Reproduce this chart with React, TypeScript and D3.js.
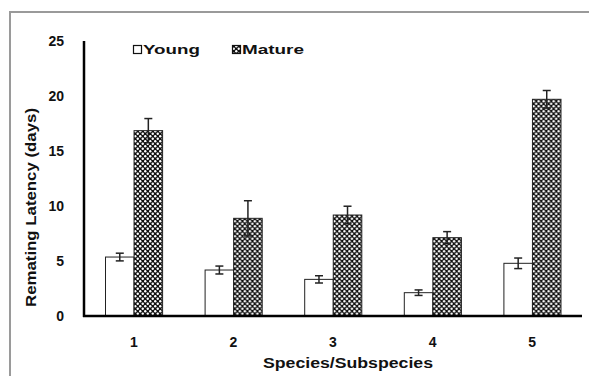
import React, { useEffect, useRef } from "react";
import * as d3 from "d3";

const categories = ["1", "2", "3", "4", "5"];
const seriesNames = ["Young", "Mature"];
const youngMeans = [5.36, 4.18, 3.33, 2.12, 4.79];
const youngErrors = [0.35, 0.36, 0.33, 0.25, 0.48];
const matureMeans = [16.85, 8.88, 9.18, 7.12, 19.7];
const matureErrors = [1.1, 1.6, 0.8, 0.55, 0.8];
const yTicks = [0, 5, 10, 15, 20, 25];

const width = 589;
const height = 376;

const App = () => {
  const svgRef = useRef<SVGSVGElement>(null);

  useEffect(() => {
    const svg = d3.select(svgRef.current);
    svg.selectAll("*").remove();

    const font = "'Liberation Sans', Arial, sans-serif";

    // pattern for the mature bars
    const defs = svg.append("defs");
    const pat = defs
      .append("pattern")
      .attr("id", "dots")
      .attr("patternUnits", "userSpaceOnUse")
      .attr("width", 5)
      .attr("height", 5);
    pat.append("rect").attr("width", 5).attr("height", 5).attr("fill", "#111");
    pat.append("circle").attr("cx", 1.25).attr("cy", 1.25).attr("r", 1.2).attr("fill", "#fff");
    pat.append("circle").attr("cx", 3.75).attr("cy", 3.75).attr("r", 1.2).attr("fill", "#fff");

    // chart frame
    svg
      .append("rect")
      .attr("x", 10)
      .attr("y", 12)
      .attr("width", 640)
      .attr("height", 420)
      .attr("fill", "none")
      .attr("stroke", "#9a9a9a")
      .attr("stroke-width", 2);

    const x = d3.scaleBand().domain(categories).range([84, 582]);
    const xInner = d3
      .scaleBand()
      .domain(seriesNames)
      .range([21.5, x.bandwidth() - 21]);
    const y = d3.scaleLinear().domain([0, 25]).range([316, 41]);

    const rows = categories.map((c, i) => ({
      cat: c,
      values: [
        { name: "Young", mean: youngMeans[i], err: youngErrors[i] },
        { name: "Mature", mean: matureMeans[i], err: matureErrors[i] },
      ],
    }));

    const groups = svg
      .selectAll("g.grp")
      .data(rows)
      .enter()
      .append("g")
      .attr("class", "grp")
      .attr("transform", (d) => `translate(${x(d.cat)},0)`);

    groups
      .selectAll("rect")
      .data((d) => d.values)
      .enter()
      .append("rect")
      .attr("x", (d) => xInner(d.name)!)
      .attr("y", (d) => y(d.mean))
      .attr("width", xInner.bandwidth())
      .attr("height", (d) => y(0) - y(d.mean))
      .attr("fill", (d) => (d.name === "Young" ? "#fff" : "url(#dots)"))
      .attr("stroke", "#222")
      .attr("stroke-width", 1);

    // error bars
    const eb = groups
      .selectAll("g.err")
      .data((d) => d.values)
      .enter()
      .append("g")
      .attr("class", "err")
      .attr("stroke", "#222")
      .attr("stroke-width", 1.5);
    const cx = (d: any) => xInner(d.name)! + xInner.bandwidth() / 2;
    eb.append("line")
      .attr("x1", cx)
      .attr("x2", cx)
      .attr("y1", (d) => y(d.mean - d.err))
      .attr("y2", (d) => y(d.mean + d.err));
    eb.append("line")
      .attr("x1", (d) => cx(d) - 4)
      .attr("x2", (d) => cx(d) + 4)
      .attr("y1", (d) => y(d.mean + d.err))
      .attr("y2", (d) => y(d.mean + d.err));
    eb.append("line")
      .attr("x1", (d) => cx(d) - 4)
      .attr("x2", (d) => cx(d) + 4)
      .attr("y1", (d) => y(d.mean - d.err))
      .attr("y2", (d) => y(d.mean - d.err));

    // axes
    svg
      .append("line")
      .attr("x1", 84)
      .attr("x2", 84)
      .attr("y1", y(25))
      .attr("y2", y(0) + 1)
      .attr("stroke", "#000")
      .attr("stroke-width", 2.5);
    svg
      .append("line")
      .attr("x1", 83)
      .attr("x2", 582)
      .attr("y1", y(0))
      .attr("y2", y(0))
      .attr("stroke", "#000")
      .attr("stroke-width", 2.5);

    svg
      .selectAll("text.ytick")
      .data(yTicks)
      .enter()
      .append("text")
      .attr("class", "ytick")
      .attr("x", 64)
      .attr("y", (d) => y(d))
      .attr("dy", "0.35em")
      .attr("text-anchor", "end")
      .attr("font-family", font)
      .attr("font-weight", "bold")
      .attr("font-size", 14)
      .attr("fill", "#111")
      .text((d) => d);

    svg
      .selectAll("text.xtick")
      .data(categories)
      .enter()
      .append("text")
      .attr("class", "xtick")
      .attr("x", (d) => x(d)! + x.bandwidth() / 2)
      .attr("y", 347)
      .attr("text-anchor", "middle")
      .attr("font-family", font)
      .attr("font-weight", "bold")
      .attr("font-size", 14)
      .attr("fill", "#111")
      .text((d) => d);

    svg
      .append("text")
      .attr("x", 263)
      .attr("y", 368)
      .attr("textLength", 170)
      .attr("lengthAdjust", "spacingAndGlyphs")
      .attr("font-family", font)
      .attr("font-weight", "bold")
      .attr("font-size", 14)
      .attr("fill", "#111")
      .text("Species/Subspecies");

    svg
      .append("text")
      .attr("transform", "translate(36,307) rotate(-90)")
      .attr("textLength", 199)
      .attr("lengthAdjust", "spacingAndGlyphs")
      .attr("font-family", font)
      .attr("font-weight", "bold")
      .attr("font-size", 14)
      .attr("fill", "#111")
      .text("Remating Latency (days)");

    // legend
    const legendX = [133, 232];
    const legendW = [57, 62];
    seriesNames.forEach((name, i) => {
      svg
        .append("rect")
        .attr("x", legendX[i] + 0.5)
        .attr("y", 45.5)
        .attr("width", 8)
        .attr("height", 8)
        .attr("fill", name === "Young" ? "#fff" : "url(#dots)")
        .attr("stroke", "#111")
        .attr("stroke-width", 1.2);
      svg
        .append("text")
        .attr("x", legendX[i] + 10)
        .attr("y", 54)
        .attr("textLength", legendW[i])
        .attr("lengthAdjust", "spacingAndGlyphs")
        .attr("font-family", font)
        .attr("font-weight", "bold")
        .attr("font-size", 13)
        .attr("fill", "#111")
        .text(name);
    });
  }, []);

  return (
    <>
      <style>{"body{margin:0}"}</style>
      <svg ref={svgRef} width={width} height={height} style={{ display: "block", background: "#fff" }} />
    </>
  );
};

export default App;
